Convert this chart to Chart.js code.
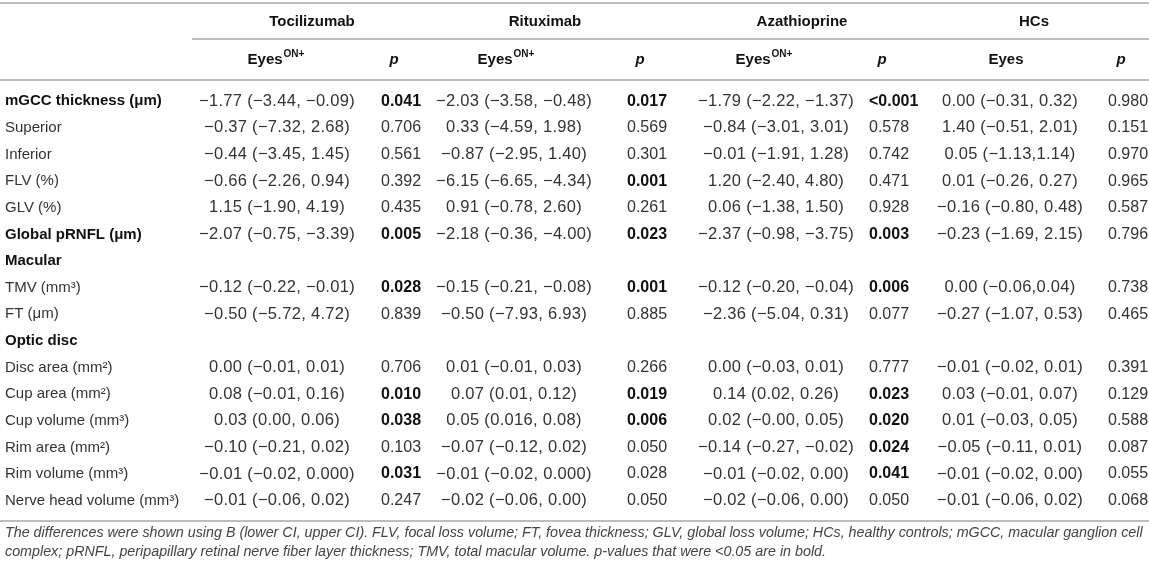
<!DOCTYPE html>
<html>
<head>
<meta charset="utf-8">
<title>Differences in OCT parameters by treatment</title>
<script src="https://cdn.jsdelivr.net/npm/chart.js@4.4.1/dist/chart.umd.min.js"></script>
<style>
  html, body { margin: 0; padding: 0; background: #fff; }
  #wrap { position: relative; width: 1149px; height: 568px; }
</style>
</head>
<body>
<div id="wrap"><canvas id="tableChart"></canvas></div>
<script>
// --- table data ---
const rowLabels = [
    'mGCC thickness (\u03bcm)', 'Superior', 'Inferior', 'FLV (%)', 'GLV (%)',
    'Global pRNFL (\u03bcm)', 'Macular', 'TMV (mm\u00b3)', 'FT (\u03bcm)', 'Optic disc',
    'Disc area (mm\u00b2)', 'Cup area (mm\u00b2)', 'Cup volume (mm\u00b3)', 'Rim area (mm\u00b2)',
    'Rim volume (mm\u00b3)', 'Nerve head volume (mm\u00b3)'
];
const groups = ['Tocilizumab', 'Rituximab', 'Azathioprine', 'HCs'];
const valueHeads = ['Eyes', 'Eyes', 'Eyes', 'Eyes'];
const valueSups = ['ON+', 'ON+', 'ON+', ''];

const tociB = ['\u22121.77 (\u22123.44, \u22120.09)', '\u22120.37 (\u22127.32, 2.68)', '\u22120.44 (\u22123.45, 1.45)', '\u22120.66 (\u22122.26, 0.94)', '1.15 (\u22121.90, 4.19)', '\u22122.07 (\u22120.75, \u22123.39)', null, '\u22120.12 (\u22120.22, \u22120.01)', '\u22120.50 (\u22125.72, 4.72)', null, '0.00 (\u22120.01, 0.01)', '0.08 (\u22120.01, 0.16)', '0.03 (0.00, 0.06)', '\u22120.10 (\u22120.21, 0.02)', '\u22120.01 (\u22120.02, 0.000)', '\u22120.01 (\u22120.06, 0.02)'];
const tociP = ['0.041', '0.706', '0.561', '0.392', '0.435', '0.005', null, '0.028', '0.839', null, '0.706', '0.010', '0.038', '0.103', '0.031', '0.247'];

const rituB = ['\u22122.03 (\u22123.58, \u22120.48)', '0.33 (\u22124.59, 1.98)', '\u22120.87 (\u22122.95, 1.40)', '\u22126.15 (\u22126.65, \u22124.34)', '0.91 (\u22120.78, 2.60)', '\u22122.18 (\u22120.36, \u22124.00)', null, '\u22120.15 (\u22120.21, \u22120.08)', '\u22120.50 (\u22127.93, 6.93)', null, '0.01 (\u22120.01, 0.03)', '0.07 (0.01, 0.12)', '0.05 (0.016, 0.08)', '\u22120.07 (\u22120.12, 0.02)', '\u22120.01 (\u22120.02, 0.000)', '\u22120.02 (\u22120.06, 0.00)'];
const rituP = ['0.017', '0.569', '0.301', '0.001', '0.261', '0.023', null, '0.001', '0.885', null, '0.266', '0.019', '0.006', '0.050', '0.028', '0.050'];

const azaB = ['\u22121.79 (\u22122.22, \u22121.37)', '\u22120.84 (\u22123.01, 3.01)', '\u22120.01 (\u22121.91, 1.28)', '1.20 (\u22122.40, 4.80)', '0.06 (\u22121.38, 1.50)', '\u22122.37 (\u22120.98, \u22123.75)', null, '\u22120.12 (\u22120.20, \u22120.04)', '\u22122.36 (\u22125.04, 0.31)', null, '0.00 (\u22120.03, 0.01)', '0.14 (0.02, 0.26)', '0.02 (\u22120.00, 0.05)', '\u22120.14 (\u22120.27, \u22120.02)', '\u22120.01 (\u22120.02, 0.00)', '\u22120.02 (\u22120.06, 0.00)'];
const azaP = ['<0.001', '0.578', '0.742', '0.471', '0.928', '0.003', null, '0.006', '0.077', null, '0.777', '0.023', '0.020', '0.024', '0.041', '0.050'];

const hcB = ['0.00 (\u22120.31, 0.32)', '1.40 (\u22120.51, 2.01)', '0.05 (\u22121.13,1.14)', '0.01 (\u22120.26, 0.27)', '\u22120.16 (\u22120.80, 0.48)', '\u22120.23 (\u22121.69, 2.15)', null, '0.00 (\u22120.06,0.04)', '\u22120.27 (\u22121.07, 0.53)', null, '\u22120.01 (\u22120.02, 0.01)', '0.03 (\u22120.01, 0.07)', '0.01 (\u22120.03, 0.05)', '\u22120.05 (\u22120.11, 0.01)', '\u22120.01 (\u22120.02, 0.00)', '\u22120.01 (\u22120.06, 0.02)'];
const hcP = ['0.980', '0.151', '0.970', '0.965', '0.587', '0.796', null, '0.738', '0.465', null, '0.391', '0.129', '0.588', '0.087', '0.055', '0.068'];

// p-values shown in regular weight in the source even though < 0.05
const notBoldP = ['Rituximab|Rim volume (mm\u00b3)'];

const footnote = [
    'The differences were shown using B (lower CI, upper CI). FLV, focal loss volume; FT, fovea thickness; GLV, global loss volume; HCs, healthy controls; mGCC, macular ganglion cell',
    'complex; pRNFL, peripapillary retinal nerve fiber layer thickness; TMV, total macular volume. p-values that were <0.05 are in bold.'
];

// --- layout / style ---
const FONT = '"Liberation Sans", Arial, Helvetica, sans-serif';
const boldRows = ['mGCC thickness (\u03bcm)', 'Global pRNFL (\u03bcm)', 'Macular', 'Optic disc'];
const colX = [277, 381, 514, 627, 776, 869, 1010, 1108];   // column anchors on x scale
const eyesX = [276, 506, 764, 1006];
const pHeadOffset = 13;
const groupX = [312, 545, 802, 1034];
const textColor = '#333';
const boldColor = '#111';
const ruleColor = '#bdbdbd';

const columns = [
    { group: 0, kind: 'b', values: tociB }, { group: 0, kind: 'p', values: tociP },
    { group: 1, kind: 'b', values: rituB }, { group: 1, kind: 'p', values: rituP },
    { group: 2, kind: 'b', values: azaB },  { group: 2, kind: 'p', values: azaP },
    { group: 3, kind: 'b', values: hcB },   { group: 3, kind: 'p', values: hcP }
];

function isBoldP(col, row, txt) {
    if (notBoldP.includes(groups[col.group] + '|' + rowLabels[row])) return false;
    return parseFloat(txt.replace('<', '')) < 0.05;
}

const datasets = columns.map((col, c) => ({
    label: groups[col.group] + ' ' + col.kind,
    kind: col.kind,
    pointRadius: 0,
    data: col.values
        .map((v, i) => v === null ? null : {
            x: colX[c], y: rowLabels[i], text: v,
            bold: col.kind === 'p' && isBoldP(col, i, v)
        })
        .filter(d => d !== null)
}));

const tablePlugin = {
    id: 'tableText',
    afterDatasetsDraw(chart) {
        const ctx = chart.ctx;
        const area = chart.chartArea;
        const W = chart.width;
        ctx.save();

        // horizontal rules
        ctx.strokeStyle = ruleColor;
        ctx.lineWidth = 2;
        const rule = (x0, x1, y) => { ctx.beginPath(); ctx.moveTo(x0, y); ctx.lineTo(x1, y); ctx.stroke(); };
        rule(0, W, area.top - 85);
        rule(area.left + 2, W, area.top - 49);
        rule(0, W, area.top - 8);
        rule(0, W, area.bottom + 7);

        ctx.textBaseline = 'middle';
        ctx.fillStyle = boldColor;

        // group headers
        ctx.font = 'bold 15px ' + FONT;
        ctx.textAlign = 'center';
        groups.forEach((g, i) => ctx.fillText(g, groupX[i], area.top - 66));

        // sub headers
        const subY = area.top - 28;
        columns.forEach((col, c) => {
            if (col.kind === 'b') {
                const head = valueHeads[col.group], sup = valueSups[col.group];
                ctx.font = 'bold 15px ' + FONT;
                const w1 = ctx.measureText(head).width;
                ctx.font = 'bold 10px ' + FONT;
                const w2 = sup ? ctx.measureText(sup).width + 1 : 0;
                const x0 = eyesX[col.group] - (w1 + w2) / 2;
                ctx.textAlign = 'left';
                ctx.font = 'bold 15px ' + FONT;
                ctx.fillText(head, x0, subY);
                if (sup) {
                    ctx.font = 'bold 10px ' + FONT;
                    ctx.fillText(sup, x0 + w1 + 1, subY - 6);
                }
            } else {
                ctx.font = 'italic bold 15px ' + FONT;
                ctx.textAlign = 'center';
                ctx.fillText('p', colX[c] + pHeadOffset, subY);
            }
        });

        // cells, placed by the scales
        chart.data.datasets.forEach((ds, di) => {
            const meta = chart.getDatasetMeta(di);
            ctx.textAlign = ds.kind === 'p' ? 'left' : 'center';
            ctx.letterSpacing = ds.kind === 'p' ? '0px' : '0.3px';
            meta.data.forEach((pt, i) => {
                const d = ds.data[i];
                ctx.font = (d.bold ? 'bold ' : '') + (ds.kind === 'p' ? '16px ' : '16.5px ') + FONT;
                ctx.fillStyle = d.bold ? boldColor : textColor;
                ctx.fillText(d.text, pt.x, pt.y);
            });
        });
        ctx.letterSpacing = '0px';
        ctx.restore();
    }
};

new Chart(document.getElementById('tableChart').getContext('2d'), {
    type: 'scatter',
    data: { labels: rowLabels, datasets: datasets },
    options: {
        responsive: true,
        maintainAspectRatio: false,
        animation: false,
        events: [],
        layout: { padding: { top: 88, left: 5, right: 0, bottom: 0 } },
        scales: {
            x: { type: 'linear', display: false, min: 190, max: 1149 },
            y: {
                type: 'category',
                labels: rowLabels,
                offset: true,
                grid: { display: false },
                border: { display: false },
                afterFit: s => { s.width = 185; },
                ticks: {
                    crossAlign: 'far',
                    autoSkip: false,
                    color: ctx => boldRows.includes(rowLabels[ctx.index]) ? boldColor : textColor,
                    font: ctx => ({
                        family: FONT, size: 15,
                        weight: boldRows.includes(rowLabels[ctx.index]) ? 'bold' : 'normal'
                    })
                }
            }
        },
        plugins: {
            legend: { display: false },
            tooltip: { enabled: false },
            subtitle: {
                display: true,
                position: 'bottom',
                align: 'start',
                text: footnote,
                color: '#444',
                font: { family: FONT, size: 14.3, style: 'italic', lineHeight: 1.33 },
                padding: { top: 10, bottom: 6 }
            }
        }
    },
    plugins: [tablePlugin]
});
</script>
</body>
</html>
